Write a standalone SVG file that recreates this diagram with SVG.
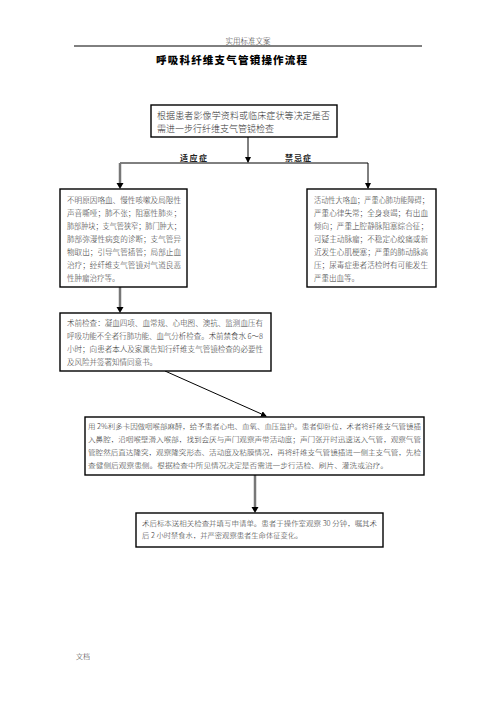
<svg xmlns="http://www.w3.org/2000/svg" width="496" height="702" viewBox="0 0 496 702">
<style>
  .t{font-family:"Noto Sans CJK SC","Liberation Serif",serif;fill:#333;font-weight:300;}
  .box{fill:#fff;stroke:#000;stroke-width:1.4;}
  .c{fill:none;stroke:#000;stroke-width:1;}
  .g{fill:none;stroke:#777;stroke-width:2.5;}
</style>
<defs>
  <marker id="ah" markerUnits="userSpaceOnUse" markerWidth="6" markerHeight="6" refX="5" refY="3" orient="auto">
    <path d="M0,0 L6,3 L0,6 Z" fill="#000"/>
  </marker>
</defs>
<rect width="496" height="702" fill="#fff"/>
<g id="header">
  <text class="t" x="248" y="44" font-size="7.5" text-anchor="middle" fill="#555">实用标准文案</text>
  <line x1="74" y1="46" x2="422" y2="46" stroke="#000" stroke-width="1"/>
  <text x="156" y="64" font-family="Noto Sans CJK SC, sans-serif" font-size="10.5" font-weight="900" fill="#000" textLength="151" lengthAdjust="spacing">呼吸科纤维支气管镜操作流程</text>
</g>
<g id="connectors">
  <line class="c" x1="248" y1="137" x2="248" y2="162" marker-end="url(#ah)"/>
  <line class="c" x1="120" y1="163" x2="368" y2="163"/>
  <line class="g" x1="120" y1="163" x2="120" y2="185"/>
  <path d="M116.5,183 L123.5,183 L120,189 Z" fill="#000"/>
  <line class="c" x1="368" y1="163" x2="368" y2="188" marker-end="url(#ah)"/>
  <line class="g" x1="120" y1="287" x2="120" y2="309"/>
  <path d="M116.5,307 L123.5,307 L120,313 Z" fill="#000"/>
  <line class="c" x1="165" y1="371" x2="266" y2="416" marker-end="url(#ah)"/>
  <line class="g" x1="255" y1="475" x2="255" y2="509"/>
  <path d="M251.5,507 L258.5,507 L255,513 Z" fill="#000"/>
  <text x="180" y="161" font-family="Noto Sans CJK SC, sans-serif" font-size="8" font-weight="bold" fill="#222" textLength="27" lengthAdjust="spacing">适应症</text>
  <text x="285" y="161" font-family="Noto Sans CJK SC, sans-serif" font-size="8" font-weight="bold" fill="#222" textLength="26" lengthAdjust="spacing">禁忌症</text>
</g>
<g id="n1">
  <rect class="box" x="151" y="105" width="186" height="32"/>
  <text class="t" x="157" y="118.5" font-size="9" textLength="173" lengthAdjust="spacing">根据患者影像学资料或临床症状等决定是否</text>
  <text class="t" x="157" y="132" font-size="9">需进一步行纤维支气管镜检查</text>
</g>
<g id="n2">
  <rect class="box" x="60" y="189" width="127" height="98"/>
  <g font-size="7.5">
    <text class="t" x="67" y="203" textLength="114" lengthAdjust="spacingAndGlyphs">不明原因咯血、慢性咳嗽及局限性</text>
    <text class="t" x="67" y="216" textLength="114" lengthAdjust="spacingAndGlyphs">声音嘶哑；肺不张；阻塞性肺炎；</text>
    <text class="t" x="67" y="229" textLength="114" lengthAdjust="spacingAndGlyphs">肺部肿块；支气管狭窄；肺门肿大；</text>
    <text class="t" x="67" y="242" textLength="114" lengthAdjust="spacingAndGlyphs">肺部弥漫性病变的诊断；支气管异</text>
    <text class="t" x="67" y="255" textLength="114" lengthAdjust="spacingAndGlyphs">物取出；引导气管插管；局部止血</text>
    <text class="t" x="67" y="268" textLength="114" lengthAdjust="spacingAndGlyphs">治疗；经纤维支气管镜对气道良恶</text>
    <text class="t" x="67" y="281">性肿瘤治疗等。</text>
  </g>
</g>
<g id="n3">
  <rect class="box" x="307" y="189" width="129" height="98"/>
  <g font-size="7.5">
    <text class="t" x="314" y="203" textLength="115" lengthAdjust="spacingAndGlyphs">活动性大咯血；严重心肺功能障碍；</text>
    <text class="t" x="314" y="216" textLength="114" lengthAdjust="spacingAndGlyphs">严重心律失常；全身衰竭；有出血</text>
    <text class="t" x="314" y="229" textLength="114" lengthAdjust="spacingAndGlyphs">倾向；严重上腔静脉阻塞综合征；</text>
    <text class="t" x="314" y="242" textLength="114" lengthAdjust="spacingAndGlyphs">可疑主动脉瘤；不稳定心绞痛或新</text>
    <text class="t" x="314" y="255" textLength="114" lengthAdjust="spacingAndGlyphs">近发生心肌梗塞；严重的肺动脉高</text>
    <text class="t" x="314" y="268" textLength="114" lengthAdjust="spacingAndGlyphs">压；尿毒症患者活检时有可能发生</text>
    <text class="t" x="314" y="281">严重出血等。</text>
  </g>
</g>
<g id="n4">
  <rect class="box" x="60" y="313" width="211" height="58"/>
  <g font-size="7.5">
    <text class="t" x="67" y="326" textLength="196" lengthAdjust="spacingAndGlyphs">术前检查：凝血四项、血常规、心电图、澳抗、监测血压有</text>
    <text class="t" x="67" y="339" textLength="196" lengthAdjust="spacingAndGlyphs">呼吸功能不全者行肺功能、血气分析检查。术前禁食水 6～8</text>
    <text class="t" x="67" y="352" textLength="196" lengthAdjust="spacingAndGlyphs">小时；向患者本人及家属告知行纤维支气管镜检查的必要性</text>
    <text class="t" x="67" y="365">及风险并签署知情同意书。</text>
  </g>
</g>
<g id="n5">
  <rect class="box" x="85" y="417" width="339" height="58"/>
  <g font-size="7.3">
    <text class="t" x="88" y="429" textLength="333" lengthAdjust="spacingAndGlyphs">用 2%利多卡因做咽喉部麻醉，给予患者心电、血氧、血压监护。患者仰卧位，术者将纤维支气管镜插</text>
    <text class="t" x="88" y="442" textLength="333" lengthAdjust="spacingAndGlyphs">入鼻腔，沿咽喉壁滑入喉部，找到会厌与声门观察声带活动度；声门张开时迅速送入气管，观察气管</text>
    <text class="t" x="88" y="455" textLength="333" lengthAdjust="spacingAndGlyphs">管腔然后直达隆突，观察隆突形态、活动度及粘膜情况，再将纤维支气管镜插进一侧主支气管，先检</text>
    <text class="t" x="88" y="468" textLength="300" lengthAdjust="spacingAndGlyphs">查健侧后观察患侧。根据检查中所见情况决定是否需进一步行活检、刷片、灌洗或治疗。</text>
  </g>
</g>
<g id="n6">
  <rect class="box" x="136" y="513" width="247" height="34"/>
  <g font-size="7.3">
    <text class="t" x="142" y="526" textLength="235" lengthAdjust="spacingAndGlyphs">术后标本送相关检查并填写申请单。患者于操作室观察 30 分钟，嘱其术</text>
    <text class="t" x="142" y="538">后 2 小时禁食水，并严密观察患者生命体征变化。</text>
  </g>
</g>
<g id="footer">
  <text class="t" x="83" y="659" font-size="7" text-anchor="middle" fill="#555">文档</text>
</g>
</svg>
